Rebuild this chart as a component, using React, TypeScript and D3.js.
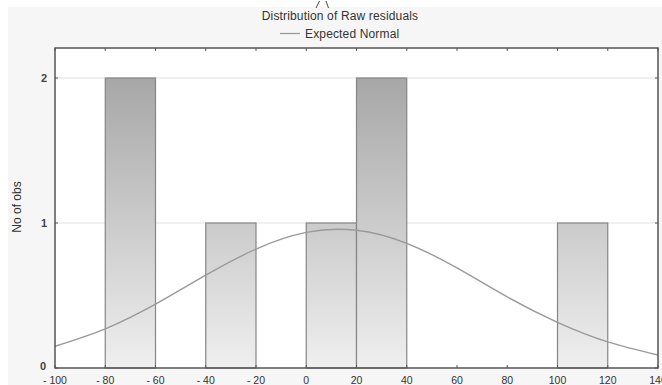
import * as d3 from "d3";

const binStarts = [-80, -40, 0, 20, 100];
const binCounts = [2, 1, 1, 2, 1];
const binWidth = 20;

const curveX = [-100, -80, -60, -40, -20, 0, 20, 40, 60, 80, 100, 120, 140];
const curveY = [0.15, 0.27, 0.44, 0.64, 0.82, 0.935, 0.95, 0.86, 0.69, 0.49, 0.315, 0.18, 0.09];

const xTicks = [-100, -80, -60, -40, -20, 0, 20, 40, 60, 80, 100, 120, 140];
const yTicks = [0, 1, 2];

const W = 662;
const H = 385;
const left = 55, right = 658, top = 48, bottom = 368;
const font = "'Liberation Sans', Arial, sans-serif";

export default function App() {
  const x = d3.scaleLinear().domain([-100, 140]).range([left, right]);
  const y = d3.scaleLinear().domain([0, 2.207]).range([bottom, top]);

  const line = d3
    .line<number>()
    .x((_, i) => x(curveX[i]))
    .y((d) => y(d))
    .curve(d3.curveNatural);

  return (
    <svg
      width={W}
      height={H}
      style={{ position: "absolute", left: 0, top: 0, background: "#fff" }}
    >
      <defs>
        <linearGradient id="barGrad" gradientUnits="userSpaceOnUse" x1="0" y1={y(2)} x2="0" y2={y(0)}>
          <stop offset="0" stopColor="#a7a7a7" />
          <stop offset="1" stopColor="#efefef" />
        </linearGradient>
      </defs>

      {/* outer panel */}
      <rect x={8} y={7} width={W} height={H} fill="#f6f6f6" />
      <path d="M316,8 L319.5,1 M326,1 L328.5,8" stroke="#444" strokeWidth={1} fill="none" />

      <text x={340} y={20} textAnchor="middle" fontFamily={font} fontSize={12} letterSpacing={0.15} fill="#333">
        Distribution of Raw residuals
      </text>
      <line x1={280} x2={300} y1={33.5} y2={33.5} stroke="#999" strokeWidth={1.2} />
      <text x={305} y={37.5} fontFamily={font} fontSize={12} letterSpacing={0.15} fill="#333">
        Expected Normal
      </text>

      {/* plot area */}
      <rect x={left} y={top} width={right - left} height={bottom - top} fill="#fff" />

      {yTicks.filter((t) => t > 0).map((t) => (
        <line key={"g" + t} x1={left} x2={right} y1={y(t)} y2={y(t)} stroke="#e2e2e2" strokeWidth={1} />
      ))}

      {binStarts.map((s, i) => (
        <rect
          key={"b" + i}
          x={x(s)}
          y={y(binCounts[i])}
          width={x(s + binWidth) - x(s)}
          height={y(0) - y(binCounts[i])}
          fill="url(#barGrad)"
          stroke="#858585"
          strokeWidth={1.2}
        />
      ))}

      <path d={line(curveY) || ""} fill="none" stroke="#9a9a9a" strokeWidth={1.4} />

      {/* frame */}
      <rect x={left} y={top} width={right - left} height={bottom - top} fill="none" stroke="#555" strokeWidth={1.5} />

      {xTicks.map((t) => (
        <g key={"x" + t}>
          <line x1={x(t)} x2={x(t)} y1={bottom} y2={bottom - 3} stroke="#555" />
          <line x1={x(t)} x2={x(t)} y1={top} y2={top + 3} stroke="#555" />
          <text x={x(t)} y={384} textAnchor="middle" fontFamily={font} fontSize={10.5} fill="#333">
            {t < 0 ? "- " + Math.abs(t) : t}
          </text>
        </g>
      ))}

      {yTicks.map((t) => (
        <g key={"y" + t}>
          <line x1={left} x2={left + 3} y1={y(t)} y2={y(t)} stroke="#555" />
          <line x1={right} x2={right - 3} y1={y(t)} y2={y(t)} stroke="#555" />
          <text
            x={t === 0 ? 46 : 47}
            y={y(t) + (t === 0 ? 2 : 4)}
            textAnchor="end"
            fontFamily={font}
            fontSize={11}
            fontWeight="bold"
            fill="#444"
          >
            {t}
          </text>
        </g>
      ))}

      <text
        transform={`translate(21, 207) rotate(-90)`}
        textAnchor="middle"
        fontFamily={font}
        fontSize={12}
        fill="#333"
      >
        No of obs
      </text>
    </svg>
  );
}
